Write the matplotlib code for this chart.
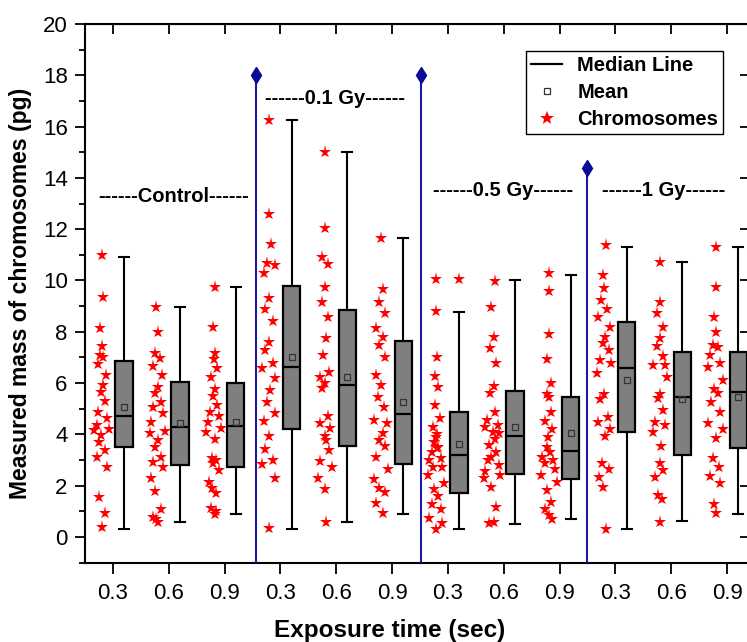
import numpy as np
import matplotlib
matplotlib.use("Agg")
import matplotlib.pyplot as plt
from matplotlib.lines import Line2D
from matplotlib.ticker import MultipleLocator

plt.rcParams['font.family'] = ['Liberation Sans', 'DejaVu Sans']

# --- data ---
tick_labels = ['0.3', '0.6', '0.9'] * 4
dose_labels = ['------Control------', '------0.1 Gy------', '------0.5 Gy------', '------1 Gy------']
dose_label_x = [2.09, 4.98, 7.98, 10.86]
dose_label_y = [13.27, 17.1, 13.49, 13.49]
sep_x = [3.56, 6.51, 9.49]
sep_top = [18.0, 18.0, 14.4]

box_q1 = [3.52, 2.81, 2.72, 4.22, 3.55, 2.85, 1.70, 2.46, 2.25, 4.08, 3.20, 3.46]
box_med = [4.73, 4.30, 4.33, 6.64, 5.91, 4.78, 3.18, 3.95, 3.34, 6.58, 5.47, 5.64]
box_q3 = [6.87, 6.06, 5.99, 9.79, 8.85, 7.64, 4.87, 5.70, 5.46, 8.39, 7.21, 7.20]
whisk_lo = [0.30, 0.60, 0.91, 0.30, 0.60, 0.91, 0.30, 0.51, 0.70, 0.30, 0.61, 0.91]
whisk_hi = [10.93, 8.95, 9.76, 16.26, 15.02, 11.64, 8.78, 10.02, 10.21, 11.32, 10.73, 11.29]
box_mean = [5.07, 4.43, 4.47, 7.03, 6.25, 5.28, 3.64, 4.28, 4.07, 6.12, 5.37, 5.46]

stars = [
    [10.99, 9.34, 8.14, 7.45, 7.10, 7.00, 6.74, 6.32, 5.93, 5.67, 5.32, 4.89, 4.63, 4.37, 4.17, 4.20,
     3.98, 3.72, 3.39, 3.11, 2.74, 1.57, 0.95, 0.38],
    [8.95, 8.00, 7.16, 6.97, 6.67, 6.32, 5.86, 5.60, 5.28, 5.08, 4.82, 4.50, 4.15, 4.04, 3.78, 3.50,
     3.13, 2.94, 2.74, 2.29, 1.81, 1.08, 0.79, 0.60, 0.70],
    [9.76, 8.20, 7.16, 6.93, 6.58, 6.25, 5.76, 5.50, 5.15, 4.89, 4.72, 4.50, 4.11, 4.24, 3.81, 3.07,
     3.00, 2.61, 2.16, 1.70, 1.12, 0.90, 2.90, 1.90, 1.00],
    [16.26, 12.59, 11.41, 10.67, 10.60, 10.28, 9.31, 8.88, 8.43, 7.61, 7.29, 6.80, 6.58, 6.19, 5.73,
     5.28, 4.82, 4.53, 3.94, 3.42, 3.00, 2.85, 2.29, 0.34],
    [15.02, 12.03, 10.93, 10.64, 9.76, 9.17, 8.56, 7.75, 7.10, 6.45, 6.25, 6.02, 5.80, 4.72, 4.46,
     4.24, 3.94, 3.78, 3.39, 2.97, 2.74, 2.29, 1.86, 0.60],
    [11.67, 9.66, 9.17, 8.72, 8.14, 7.81, 7.49, 7.03, 6.32, 5.93, 5.47, 5.08, 4.56, 4.46, 4.04, 3.78,
     3.55, 3.11, 2.64, 2.25, 1.90, 1.77, 1.31, 0.92],
    [10.05, 10.05, 8.82, 7.03, 6.28, 5.84, 5.15, 4.63, 4.28, 4.02, 3.72, 3.52, 3.33, 3.07, 3.00, 2.72,
     2.42, 2.12, 1.86, 1.60, 1.29, 1.08, 0.73, 0.56, 0.30, 3.48, 3.91, 2.74],
    [9.99, 8.95, 7.81, 7.35, 6.77, 5.89, 5.60, 4.89, 4.56, 4.37, 4.28, 4.11, 4.04, 3.81, 3.59, 3.33,
     3.11, 3.00, 2.81, 2.59, 2.42, 2.29, 1.94, 1.18, 0.53, 0.60],
    [10.28, 9.60, 7.91, 6.93, 6.02, 5.58, 5.47, 4.89, 4.53, 4.20, 3.89, 3.50, 3.33, 3.13, 3.00, 2.87,
     2.64, 2.42, 2.16, 1.83, 1.38, 1.08, 0.86, 0.69],
    [11.38, 10.21, 9.70, 9.24, 8.88, 8.59, 8.18, 7.79, 7.58, 7.29, 6.90, 6.77, 6.38, 5.58, 5.37, 4.69,
     4.50, 4.20, 3.94, 2.87, 2.64, 2.33, 1.94, 0.30],
    [10.73, 9.17, 8.72, 8.20, 7.75, 7.45, 7.06, 6.71, 6.71, 6.25, 5.58, 5.41, 4.95, 4.50, 4.37, 4.11,
     3.55, 2.87, 2.61, 2.35, 1.64, 1.47, 0.60],
    [11.29, 9.76, 8.56, 8.00, 7.49, 7.40, 7.10, 6.80, 6.61, 6.12, 5.76, 5.63, 5.28, 4.89, 4.46, 4.20,
     3.85, 3.07, 2.72, 2.38, 2.12, 1.29, 0.92],
]
# horizontal scatter of the stars (relative to tick)
star_jitter = [
    [-0.20, -0.17, -0.23, -0.20, -0.23, -0.17, -0.27, -0.13, -0.17, -0.22, -0.14, -0.26, -0.10, -0.29,
     -0.33, -0.07, -0.21, -0.25, -0.15, -0.29, -0.11, -0.25, -0.15, -0.20],
    [-0.22, -0.20, -0.25, -0.16, -0.28, -0.12, -0.20, -0.24, -0.14, -0.28, -0.10, -0.31, -0.07, -0.34,
     -0.19, -0.24, -0.14, -0.28, -0.10, -0.31, -0.24, -0.14, -0.28, -0.19, -0.22],
    [-0.17, -0.21, -0.17, -0.19, -0.13, -0.25, -0.17, -0.21, -0.13, -0.27, -0.10, -0.29, -0.34, -0.07,
     -0.17, -0.23, -0.15, -0.10, -0.28, -0.15, -0.25, -0.17, -0.20, -0.22, -0.16],
    [-0.20, -0.20, -0.16, -0.24, -0.10, -0.30, -0.20, -0.27, -0.14, -0.20, -0.27, -0.14, -0.33, -0.09,
     -0.18, -0.24, -0.10, -0.30, -0.20, -0.27, -0.14, -0.33, -0.09, -0.20],
    [-0.20, -0.20, -0.26, -0.15, -0.20, -0.25, -0.15, -0.19, -0.23, -0.13, -0.29, -0.21, -0.25, -0.15,
     -0.30, -0.11, -0.21, -0.19, -0.13, -0.29, -0.08, -0.33, -0.21, -0.19],
    [-0.20, -0.17, -0.23, -0.13, -0.29, -0.17, -0.23, -0.13, -0.29, -0.20, -0.26, -0.15, -0.32, -0.10,
     -0.17, -0.23, -0.13, -0.29, -0.08, -0.33, -0.23, -0.13, -0.29, -0.17],
    [-0.21, 0.19, -0.21, -0.19, -0.23, -0.18, -0.23, -0.15, -0.27, -0.19, -0.25, -0.17, -0.29, -0.13,
     -0.33, -0.11, -0.35, -0.07, -0.25, -0.17, -0.29, -0.13, -0.33, -0.11, -0.21, -0.20, -0.22, -0.26],
    [-0.16, -0.22, -0.18, -0.24, -0.14, -0.18, -0.24, -0.15, -0.30, -0.10, -0.33, -0.20, -0.08, -0.16,
     -0.26, -0.14, -0.22, -0.28, -0.09, -0.33, -0.06, -0.36, -0.22, -0.14, -0.26, -0.18],
    [-0.19, -0.19, -0.19, -0.23, -0.16, -0.22, -0.19, -0.16, -0.27, -0.13, -0.21, -0.23, -0.17, -0.31,
     -0.11, -0.27, -0.09, -0.34, -0.05, -0.23, -0.16, -0.27, -0.19, -0.13],
    [-0.16, -0.22, -0.20, -0.26, -0.15, -0.32, -0.10, -0.18, -0.22, -0.12, -0.28, -0.08, -0.33, -0.20,
     -0.27, -0.14, -0.32, -0.10, -0.18, -0.24, -0.12, -0.30, -0.22, -0.16],
    [-0.20, -0.20, -0.25, -0.15, -0.20, -0.25, -0.15, -0.32, -0.11, -0.08, -0.20, -0.23, -0.15, -0.29,
     -0.11, -0.32, -0.19, -0.21, -0.14, -0.29, -0.23, -0.17, -0.20],
    [-0.20, -0.19, -0.23, -0.20, -0.26, -0.17, -0.30, -0.13, -0.35, -0.08, -0.23, -0.17, -0.29, -0.13,
     -0.35, -0.08, -0.20, -0.26, -0.15, -0.30, -0.13, -0.23, -0.19],
]

positions = np.arange(1, len(tick_labels) + 1)

fig = plt.figure(figsize=(7.47, 6.42), dpi=100)
ax = fig.add_axes([85 / 747, 79.4 / 642, 670 / 747, 538.6 / 642])

# stars
for i, p in enumerate(positions):
    ax.plot(p + np.array(star_jitter[i]), stars[i], linestyle='none', marker='*',
            color='red', markersize=9.5, markeredgewidth=0, zorder=3)

# boxes
stats = []
for i in range(len(positions)):
    stats.append(dict(med=box_med[i], q1=box_q1[i], q3=box_q3[i],
                      whislo=whisk_lo[i], whishi=whisk_hi[i], mean=box_mean[i], fliers=[]))
ax.bxp(stats, positions=positions + 0.2, widths=0.31, patch_artist=True,
       showmeans=True, showfliers=False, capwidths=0.18, manage_ticks=False,
       boxprops=dict(facecolor='#7f7f7f', edgecolor='black', linewidth=1.6),
       medianprops=dict(color='black', linewidth=1.6),
       whiskerprops=dict(color='black', linewidth=1.5),
       capprops=dict(color='black', linewidth=1.5),
       meanprops=dict(marker='s', markerfacecolor='none', markeredgecolor='#333333',
                      markersize=4.5, markeredgewidth=0.9))

# dose separators
for xs, top in zip(sep_x, sep_top):
    ax.plot([xs, xs], [-1, top], color='#1a1aa6', linewidth=1.5, zorder=4)
    ax.plot([xs], [top], marker='d', color='#0a0a96', markersize=8, zorder=4)

for lab, tx, ty in zip(dose_labels, dose_label_x, dose_label_y):
    ax.text(tx, ty, lab, ha='center', va='center', fontsize=14.5, fontweight='bold')

ax.set_xlim(0.5, 12.5)
ax.set_ylim(-1, 20)
ax.set_xticks(positions)
ax.set_xticklabels(tick_labels)
ax.set_yticks(np.arange(0, 21, 2))
ax.yaxis.set_minor_locator(MultipleLocator(1))
ax.tick_params(axis='both', which='major', direction='out', labelsize=16, width=1.3)
ax.tick_params(axis='x', which='major', length=8, pad=7)
ax.tick_params(axis='y', which='major', length=7.5, pad=5)
ax.tick_params(axis='y', which='minor', direction='out', length=4, width=1.3)
for s in ax.spines.values():
    s.set_linewidth(1.5)

top_ax = ax.secondary_xaxis('top')
top_ax.set_xticks(positions)
top_ax.tick_params(direction='in', length=7, width=1.3, labeltop=False)
right_ax = ax.secondary_yaxis('right')
right_ax.set_yticks(np.arange(0, 21, 2))
right_ax.tick_params(direction='in', length=11, width=1.3, labelright=False)

ax.set_xlabel('Exposure time (sec)', fontsize=17.5, fontweight='bold')
ax.xaxis.set_label_coords(0.455, -0.105)
ax.set_ylabel('Measured mass of chromosomes (pg)', fontsize=16.5, fontweight='bold', labelpad=8)

handles = [
    Line2D([], [], color='black', linewidth=1.6),
    Line2D([], [], linestyle='none', marker='s', markerfacecolor='none',
           markeredgecolor='#333333', markersize=4.5, markeredgewidth=0.9),
    Line2D([], [], linestyle='none', marker='*', color='red', markersize=10, markeredgewidth=0),
]
leg = ax.legend(handles, ['Median Line', 'Mean', 'Chromosomes'], loc='upper left',
                bbox_to_anchor=(0.658, 0.950), prop=dict(size=14.5, weight='bold'),
                frameon=True, fancybox=False, edgecolor='black', framealpha=1,
                borderpad=0.25, labelspacing=0.4, handlelength=1.55, handletextpad=0.75,
                borderaxespad=0)
leg.get_frame().set_linewidth(1.0)

fig.savefig('out.png', dpi=100)
